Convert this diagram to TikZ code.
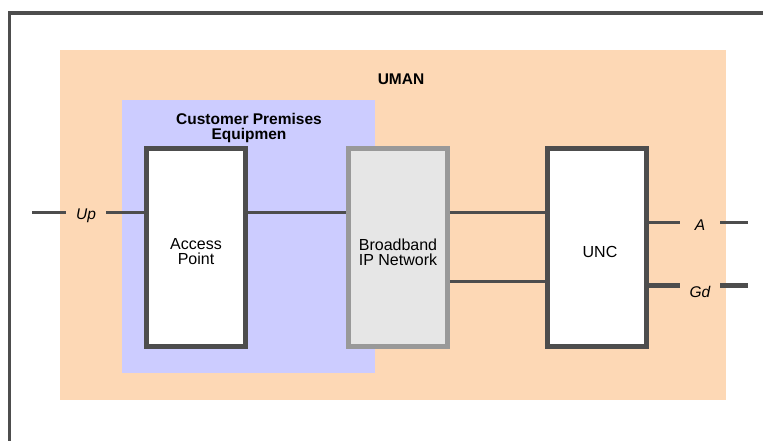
\documentclass[tikz,border=0pt]{standalone}
\usepackage{fontspec}
\setmainfont{Liberation Sans}
\definecolor{peach}{HTML}{FDD8B5}
\definecolor{lav}{HTML}{CCCCFF}
\definecolor{boxgray}{HTML}{E6E6E6}
\definecolor{bordgray}{HTML}{999999}
\definecolor{dark}{HTML}{4D4D4D}
\begin{document}
\begin{tikzpicture}[x=1pt,y=-1pt,
  region/.style={draw=none,inner sep=0pt},
  blockbox/.style={draw=dark,line width=5pt,fill=white,inner sep=0pt,minimum width=99pt,minimum height=198pt},
  grayblock/.style={blockbox,draw=bordgray,fill=boxgray},
  blocktext/.style={inner sep=0pt,align=center,font=\fontsize{16}{15}\selectfont},
  conn/.style={draw=dark,line width=3pt},
  thickconn/.style={draw=dark,line width=5pt},
  iflabel/.style={inner sep=0pt,minimum width=40pt,font=\fontsize{15.5}{16}\selectfont\itshape},
  title/.style={inner sep=0pt,font=\fontsize{15.5}{15}\selectfont\bfseries,align=center}]
\useasboundingbox (0,0) rectangle (763,441);
\fill[white] (0,0) rectangle (763,441);
% frame
\draw[dark,line width=3pt] (9.5,441) -- (9.5,13.5);
\draw[dark,line width=4pt] (8,13.5) -- (763,13.5);
% regions
\node[region,fill=peach,minimum width=666pt,minimum height=350pt] (uman) at (393,225) {};
\node[region,fill=lav,minimum width=253pt,minimum height=273pt] (cpe) at (248.5,236.5) {};
\node[title] (umanlbl) at (401,79) {UMAN};
\node[title] (cpelbl) at (249,128) {Customer Premises\\Equipmen};
% blocks
\node[blockbox] (ap) at (196,247.5) {};
\node[blocktext] (aptext) at (196,252) {Access\\Point};
\node[grayblock] (bb) at (398,247.5) {};
\node[blocktext] (bbtext) at (398,252) {Broadband\\IP Network};
\node[blockbox] (unc) at (597,247.5) {};
\node[blocktext] (unctext) at (600,252) {UNC};
% Up interface
\coordinate (upend) at (32,212);
\node[iflabel] (up) at (86,216) {Up};
\draw[conn] (upend) -- (upend -| up.west);
\draw[conn] (upend -| up.east) -- (upend -| ap.west);
% AP - BB
\draw[conn] (upend -| ap.east) -- (upend -| bb.west);
% BB - UNC
\coordinate (l1) at (451,212);
\coordinate (l2) at (451,281);
\draw[conn] (l1 -| bb.east) -- (l1 -| unc.west);
\draw[conn] (l2 -| bb.east) -- (l2 -| unc.west);
% A interface
\coordinate (aend) at (748,222);
\node[iflabel] (alb) at (700,225) {A};
\draw[conn] (aend -| unc.east) -- (aend -| alb.west);
\draw[conn] (aend -| alb.east) -- (aend);
% Gd interface
\coordinate (gend) at (748,285);
\node[iflabel] (glb) at (700,292) {Gd};
\draw[thickconn] (gend -| unc.east) -- (gend -| glb.west);
\draw[thickconn] (gend -| glb.east) -- (gend);
\end{tikzpicture}
\end{document}
